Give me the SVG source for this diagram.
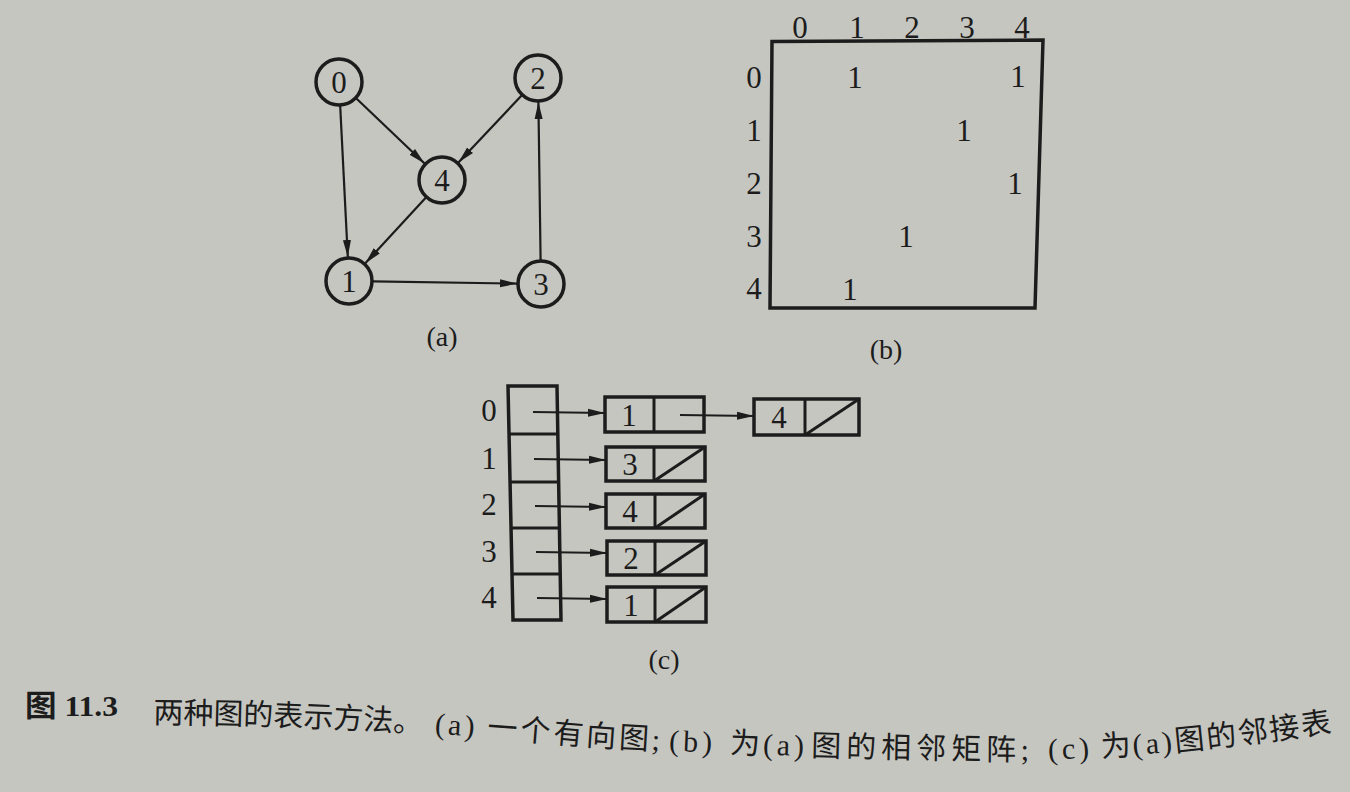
<svg xmlns="http://www.w3.org/2000/svg" width="1350" height="792" viewBox="0 0 1350 792">
<defs>
<style>
.bg{fill:#c6c6c0}
.ink{fill:#1c1c1c;font-family:"Liberation Serif","DejaVu Serif",serif}
.num{font-size:31px;text-anchor:middle;dominant-baseline:central}
.lbl{font-size:28px;text-anchor:middle;dominant-baseline:central}
.node circle{fill:none;stroke:#1c1c1c;stroke-width:3.5}
.edge{stroke:#1c1c1c;stroke-width:2.2;fill:none}
.box{fill:none;stroke:#1c1c1c;stroke-width:3.5}
.thin{stroke:#1c1c1c;stroke-width:3;fill:none}
.cap{fill:#1c1c1c;font-family:"Liberation Serif","Noto Sans CJK SC",serif;font-size:30px}
</style>
<marker id="ah" markerUnits="userSpaceOnUse" markerWidth="18" markerHeight="10" refX="17" refY="5" orient="auto">
<path d="M0,1 L17,5 L0,9 Z" fill="#1c1c1c"/>
</marker>
<path id="capline" d="M153,723 C300,725 420,731 580,745 C680,753 850,758 1000,760 C1100,761 1220,749 1345,730"/>
</defs>
<rect class="bg" x="0" y="0" width="1350" height="792"/>

<!-- (a) directed graph -->
<g id="connectors">
<line class="edge" x1="356.4" y1="98.5" x2="424.6" y2="163.5" marker-end="url(#ah)"/>
<line class="edge" x1="340.2" y1="106" x2="347.8" y2="257" marker-end="url(#ah)"/>
<line class="edge" x1="521.6" y1="95.5" x2="458.4" y2="162.5" marker-end="url(#ah)"/>
<line class="edge" x1="425.7" y1="197.7" x2="365.3" y2="263.3" marker-end="url(#ah)"/>
<line class="edge" x1="373" y1="281.4" x2="517" y2="283.6" marker-end="url(#ah)"/>
<line class="edge" x1="540.6" y1="260" x2="538.4" y2="102" marker-end="url(#ah)"/>
</g>
<g id="node0" class="node"><circle cx="339" cy="82" r="23"/><text class="ink num" x="339" y="82">0</text></g>
<g id="node2" class="node"><circle cx="538" cy="78" r="23"/><text class="ink num" x="538" y="78">2</text></g>
<g id="node4" class="node"><circle cx="442" cy="180" r="23"/><text class="ink num" x="442" y="180">4</text></g>
<g id="node1" class="node"><circle cx="349" cy="281" r="23"/><text class="ink num" x="349" y="281">1</text></g>
<g id="node3" class="node"><circle cx="541" cy="284" r="23"/><text class="ink num" x="541" y="284">3</text></g>
<text id="label-a" class="ink lbl" x="442" y="336">(a)</text>

<!-- (b) adjacency matrix -->
<g id="matrix">
<polygon class="box" points="772,41.5 1043,40 1035,308 770,308"/>
<g class="ink num">
<text x="800" y="27">0</text><text x="857" y="27">1</text><text x="912" y="27">2</text><text x="967" y="27">3</text><text x="1022" y="27">4</text>
<text x="754" y="77">0</text><text x="754" y="130">1</text><text x="754" y="183">2</text><text x="754" y="236">3</text><text x="754" y="288">4</text>
<text x="855" y="77">1</text><text x="1018" y="76">1</text>
<text x="964" y="130">1</text>
<text x="1015" y="183">1</text>
<text x="906" y="236">1</text>
<text x="850" y="289">1</text>
</g>
<text class="ink lbl" x="886" y="349">(b)</text>
</g>

<!-- (c) adjacency list -->
<g id="headers">
<polygon class="box" points="508,386 557,386 561,620 513,620"/>
<line class="thin" x1="509" y1="434" x2="558" y2="434"/>
<line class="thin" x1="510" y1="482" x2="559" y2="482"/>
<line class="thin" x1="511" y1="528" x2="560" y2="528"/>
<line class="thin" x1="512" y1="574" x2="560" y2="574"/>
<g class="ink num">
<text x="489" y="410">0</text><text x="489" y="458">1</text><text x="489" y="504">2</text><text x="489" y="551">3</text><text x="489" y="597">4</text>
</g>
</g>
<g id="list-connectors">
<line class="edge" x1="533" y1="412" x2="605" y2="413" marker-end="url(#ah)"/>
<line class="edge" x1="680" y1="415" x2="754" y2="416" marker-end="url(#ah)"/>
<line class="edge" x1="534" y1="459" x2="606" y2="460" marker-end="url(#ah)"/>
<line class="edge" x1="535" y1="506" x2="606" y2="507" marker-end="url(#ah)"/>
<line class="edge" x1="536" y1="552" x2="607" y2="553" marker-end="url(#ah)"/>
<line class="edge" x1="537" y1="598" x2="607" y2="599" marker-end="url(#ah)"/>
</g>
<g id="cell0a"><rect class="box" x="605" y="397" width="99" height="35"/><line class="thin" x1="654" y1="397" x2="654" y2="432"/><text class="ink num" x="629" y="415">1</text></g>
<g id="cell0b"><rect class="box" x="754" y="399" width="105" height="36"/><line class="thin" x1="805" y1="399" x2="805" y2="435"/><line class="thin" x1="805" y1="435" x2="859" y2="399"/><text class="ink num" x="779" y="417">4</text></g>
<g id="cell1"><rect class="box" x="606" y="447" width="99" height="34"/><line class="thin" x1="654" y1="447" x2="654" y2="481"/><line class="thin" x1="654" y1="481" x2="705" y2="447"/><text class="ink num" x="630" y="464">3</text></g>
<g id="cell2"><rect class="box" x="606" y="494" width="99" height="34"/><line class="thin" x1="655" y1="494" x2="655" y2="528"/><line class="thin" x1="655" y1="528" x2="705" y2="494"/><text class="ink num" x="630" y="511">4</text></g>
<g id="cell3"><rect class="box" x="607" y="541" width="99" height="34"/><line class="thin" x1="655" y1="541" x2="655" y2="575"/><line class="thin" x1="655" y1="575" x2="706" y2="541"/><text class="ink num" x="631" y="558">2</text></g>
<g id="cell4"><rect class="box" x="607" y="587" width="99" height="35"/><line class="thin" x1="655" y1="587" x2="655" y2="622"/><line class="thin" x1="655" y1="622" x2="706" y2="587"/><text class="ink num" x="631" y="605">1</text></g>
<text id="label-c" class="ink lbl" x="664" y="659">(c)</text>

<!-- caption -->
<g id="caption">
<text class="cap" x="25" y="705" dominant-baseline="central" font-weight="bold" textLength="93" lengthAdjust="spacingAndGlyphs">图 11.3</text>
<text class="cap"><textPath href="#capline"><tspan>两种图的表示方法。</tspan><tspan dx="12" letter-spacing="3">(a)</tspan><tspan dx="10" letter-spacing="3">一个有向图;</tspan><tspan dx="6" letter-spacing="4">(b)</tspan><tspan dx="14">为</tspan><tspan dx="3" letter-spacing="4">(a)</tspan><tspan dx="3" letter-spacing="5">图的相邻矩阵;</tspan><tspan dx="14" letter-spacing="4">(c)</tspan><tspan dx="8">为</tspan><tspan dx="2" letter-spacing="3">(a)</tspan><tspan letter-spacing="2">图的邻接表</tspan></textPath></text>
</g>
</svg>
